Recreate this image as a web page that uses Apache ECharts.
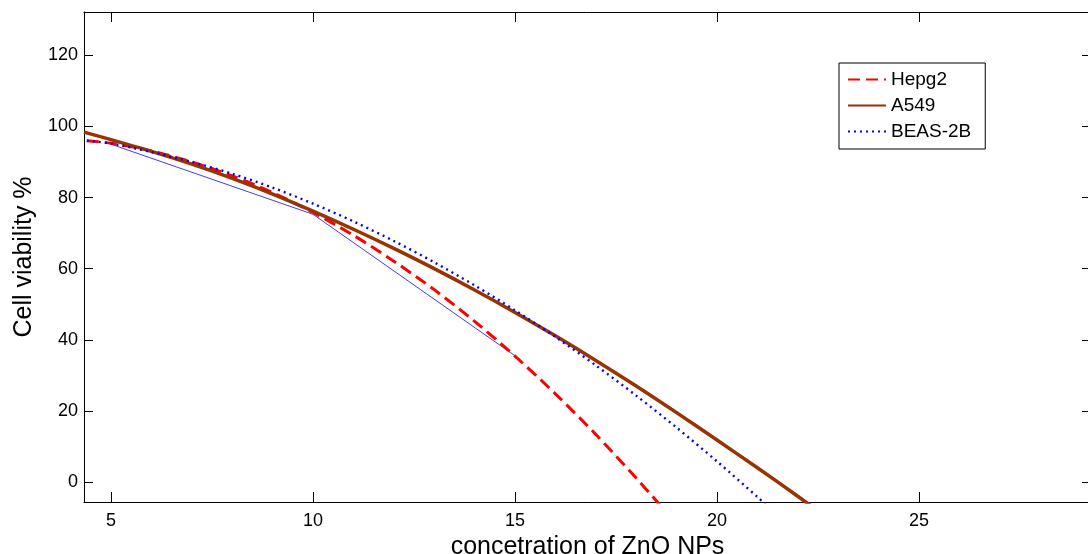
<!DOCTYPE html>
<html><head><meta charset="utf-8">
<script src="https://cdn.jsdelivr.net/npm/echarts@6/dist/echarts.min.js"></script>
<style>html,body{margin:0;padding:0;background:#fff}#c{width:1088px;height:554px}</style>
</head><body><div id="c"></div>
<script>
const xTicks = [5, 10, 15, 20, 25];
const yTicks = [0, 20, 40, 60, 80, 100, 120];
const seriesNames = ['Hepg2', 'A549', 'BEAS-2B'];
const hepgX = [4.4, 5, 6, 7, 8, 9, 10, 11, 12, 13, 14, 15, 16, 17, 18, 18.6];
const hepgY = [96.0, 95.3, 93.1, 90.0, 86.1, 81.4, 75.8, 69.4, 62.1, 54.1, 45.2, 35.4, 24.8, 13.4, 1.1, -6.6];
const a549X = [4.33, 5, 6, 7, 8, 9, 10, 11, 12, 13, 14, 15, 16, 17, 18, 19, 20, 21, 22, 22.5];
const a549Y = [98.4, 96.3, 93.0, 89.4, 85.4, 81.0, 76.2, 71.1, 65.7, 60.0, 54.0, 47.7, 41.1, 34.2, 27.0, 19.5, 11.8, 4.0, -4.0, -8.2];
const beasX = [4.4, 5, 6, 7, 8, 9, 10, 11, 12, 13, 14, 15, 16, 17, 18, 19, 20, 21, 21.3];
const beasY = [96.0, 95.2, 92.8, 90.0, 86.7, 82.8, 78.3, 73.3, 67.8, 61.8, 55.3, 48.3, 40.8, 32.8, 24.3, 15.3, 5.8, -4.2, -7.3];
const pointsX = [5, 10, 15];
const pointsY = [95, 75.3, 35.5];

const zip = (xs, ys) => xs.map((x, i) => [x, ys[i]]);
const FONT = '"Liberation Sans", Arial, sans-serif';
const X_MIN = 4.33, X_MAX = 29.26, Y_MIN = -5.63, Y_MAX = 132.2;

const chart = echarts.init(document.getElementById('c'), null, {renderer: 'canvas'});
const axisLine = {show: true, onZero: false, lineStyle: {color: '#000', width: 1}};
chart.setOption({
  backgroundColor: '#fff',
  animation: false,
  grid: {left: 84, top: 12, width: 1007, height: 490, containLabel: false, outerBoundsMode: 'none'},
  legend: {
    orient: 'vertical', left: 839, top: 63,
    padding: [6, 14, 7, 8], itemWidth: 38, itemHeight: 14, itemGap: 5,
    borderColor: '#000', borderWidth: 1, backgroundColor: '#fff',
    itemStyle: {opacity: 0},
    textStyle: {fontSize: 19, fontFamily: FONT, color: '#000', lineHeight: 21},
    data: seriesNames
  },
  xAxis: [{
    type: 'value', min: X_MIN, max: X_MAX, position: 'bottom',
    name: 'concetration of ZnO NPs', nameLocation: 'middle', nameGap: 23,
    nameTextStyle: {fontSize: 25, fontFamily: FONT, color: '#000'},
    axisLine: axisLine, splitLine: {show: false},
    axisTick: {show: true, inside: true, length: 10, customValues: xTicks, lineStyle: {color: '#000'}},
    axisLabel: {show: true, margin: 10, fontSize: 18, fontFamily: FONT, color: '#000', customValues: xTicks}
  }, {
    type: 'value', min: X_MIN, max: X_MAX, position: 'top',
    axisLine: axisLine, splitLine: {show: false},
    axisTick: {show: true, inside: true, length: 10, customValues: xTicks, lineStyle: {color: '#000'}},
    axisLabel: {show: false}
  }],
  yAxis: [{
    type: 'value', min: Y_MIN, max: Y_MAX, position: 'left',
    name: 'Cell viability %', nameLocation: 'middle', nameGap: 46,
    nameTextStyle: {fontSize: 25, fontFamily: FONT, color: '#000'},
    axisLine: axisLine, splitLine: {show: false},
    axisTick: {show: true, inside: true, length: 9, customValues: yTicks, lineStyle: {color: '#000'}},
    axisLabel: {show: true, margin: 6, fontSize: 18, fontFamily: FONT, color: '#000', customValues: yTicks}
  }, {
    type: 'value', min: Y_MIN, max: Y_MAX, position: 'right',
    axisLine: axisLine, splitLine: {show: false},
    axisTick: {show: true, inside: true, length: 9, customValues: yTicks, lineStyle: {color: '#000'}},
    axisLabel: {show: false}
  }],
  series: [
    {type: 'line', data: zip(pointsX, pointsY), symbol: 'none', silent: true,
     lineStyle: {color: '#3d3dff', width: 1}, z: 1},
    {name: seriesNames[0], type: 'line', data: zip(hepgX, hepgY), symbol: 'none', smooth: 0.3,
     itemStyle: {color: '#ff0000'}, lineStyle: {color: '#ff0000', width: 3, type: [12, 6]}, z: 2},
    {name: seriesNames[1], type: 'line', data: zip(a549X, a549Y), symbol: 'none', smooth: 0.3,
     itemStyle: {color: '#993300'}, lineStyle: {color: '#993300', width: 3.5}, z: 3},
    {name: seriesNames[2], type: 'line', data: zip(beasX, beasY), symbol: 'none', smooth: 0.3,
     itemStyle: {color: '#0000ff'}, lineStyle: {color: '#0000ff', width: 2.4, type: [2, 4]}, z: 4}
  ]
});
</script></body></html>
